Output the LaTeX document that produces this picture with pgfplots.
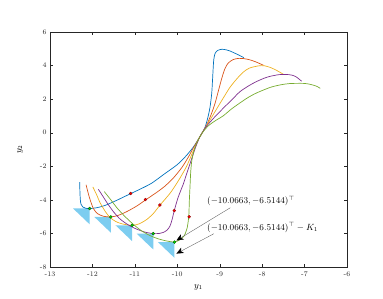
\documentclass[border=0pt]{standalone}
\usepackage{pgfplots}
\pgfplotsset{compat=1.18}
\usetikzlibrary{arrows.meta}
\definecolor{mblue}{RGB}{0,114,189}
\definecolor{morange}{RGB}{217,83,25}
\definecolor{myellow}{RGB}{237,177,32}
\definecolor{mpurple}{RGB}{126,47,142}
\definecolor{mgreen}{RGB}{119,172,48}
\definecolor{tri}{RGB}{125,205,240}
\definecolor{axgray}{RGB}{38,38,38}
\begin{document}
\begin{tikzpicture}
\begin{axis}[
  scale only axis, width=297bp, height=235bp,
  xmin=-13, xmax=-6, ymin=-8, ymax=6,
  xtick={-13,-12,...,-6}, ytick={-8,-6,...,6},
  tick align=inside, major tick length=3bp,
  axis line style={axgray, line width=0.4pt},
  tick style={axgray, line width=0.4pt},
  ticklabel style={font=\fontsize{7}{8}\selectfont, text=axgray},
  /pgf/number format/assume math mode=true,
  xticklabel style={yshift=-1bp},
  xlabel={$y_1$}, ylabel={$y_2$},
  label style={font=\fontsize{9}{10}\selectfont},
  xlabel style={at={(axis description cs:0.5,0)}, anchor=north, yshift=-14bp},
  ylabel style={at={(axis description cs:-0.101,0.5)}, anchor=center},
  every axis plot/.append style={line width=0.7pt},
]
% cones (triangles)
\addplot[fill=tri, draw=none] coordinates {(-12.0663,-4.5144) (-12.4563,-4.5144) (-12.0663,-5.4544)} -- cycle;
\addplot[fill=tri, draw=none] coordinates {(-11.5663,-5.0144) (-11.9563,-5.0144) (-11.5663,-5.9544)} -- cycle;
\addplot[fill=tri, draw=none] coordinates {(-11.0663,-5.5144) (-11.4563,-5.5144) (-11.0663,-6.4544)} -- cycle;
\addplot[fill=tri, draw=none] coordinates {(-10.5663,-6.0144) (-10.9563,-6.0144) (-10.5663,-6.9544)} -- cycle;
\addplot[fill=tri, draw=none] coordinates {(-10.0663,-6.5144) (-10.4563,-6.5144) (-10.0663,-7.4544)} -- cycle;
% curves
\addplot[mblue, smooth, tension=0.45] coordinates {
(-12.30,-2.95) (-12.295,-3.5) (-12.285,-4.0) (-12.27,-4.25) (-12.23,-4.42) (-12.16,-4.50) (-12.07,-4.52)
(-11.9,-4.47) (-11.7,-4.33) (-11.43,-4.03) (-11.1,-3.63) (-10.85,-3.33) (-10.6,-3.0) (-10.3,-2.45)
(-10.0,-1.9) (-9.8,-1.4) (-9.62,-0.85) (-9.47,-0.25) (-9.35,0.3) (-9.28,0.9) (-9.23,1.5) (-9.19,2.3)
(-9.17,3.1) (-9.155,3.8) (-9.14,4.35) (-9.11,4.72) (-9.05,4.9) (-8.95,4.97) (-8.85,4.94) (-8.76,4.87)
(-8.56,4.64) (-8.43,4.47)};
\addplot[morange, smooth, tension=0.45] coordinates {
(-12.15,-3.10) (-12.11,-3.5) (-12.07,-3.87) (-12.02,-4.25) (-11.97,-4.55) (-11.88,-4.82) (-11.75,-4.97)
(-11.57,-5.02) (-11.4,-4.93) (-11.19,-4.70) (-10.95,-4.36) (-10.74,-3.99) (-10.5,-3.58) (-10.3,-3.2)
(-10.1,-2.72) (-9.9,-2.1) (-9.75,-1.5) (-9.62,-0.9) (-9.47,-0.25) (-9.31,0.45) (-9.2,1.1) (-9.11,1.75)
(-9.02,2.6) (-8.95,3.25) (-8.88,3.8) (-8.8,4.15) (-8.68,4.36) (-8.55,4.43) (-8.45,4.42) (-8.3,4.35)
(-8.15,4.22) (-7.97,4.02)};
\addplot[myellow, smooth, tension=0.45] coordinates {
(-11.99,-3.23) (-11.9,-3.7) (-11.82,-4.17) (-11.7,-4.68) (-11.59,-5.04) (-11.45,-5.29) (-11.3,-5.43)
(-11.07,-5.52) (-10.9,-5.43) (-10.72,-5.17) (-10.56,-4.8) (-10.41,-4.32) (-10.25,-3.85) (-10.13,-3.47)
(-9.94,-2.72) (-9.78,-2.0) (-9.66,-1.3) (-9.56,-0.75) (-9.47,-0.25) (-9.35,0.25) (-9.23,0.75) (-9.1,1.3)
(-8.92,2.05) (-8.76,2.7) (-8.6,3.2) (-8.45,3.6) (-8.3,3.85) (-8.09,3.98) (-7.95,3.99) (-7.8,3.88)
(-7.65,3.7) (-7.5,3.48)};
\addplot[mpurple, smooth, tension=0.45] coordinates {
(-11.86,-3.37) (-11.75,-3.8) (-11.63,-4.27) (-11.5,-4.72) (-11.35,-5.14) (-11.15,-5.5) (-10.96,-5.74)
(-10.75,-5.93) (-10.56,-6.01) (-10.42,-6.0) (-10.33,-5.94) (-10.24,-5.8) (-10.17,-5.55) (-10.12,-5.15)
(-10.07,-4.63) (-9.98,-3.85) (-9.86,-3.07) (-9.78,-2.45) (-9.70,-1.85) (-9.58,-0.95) (-9.47,-0.25)
(-9.32,0.35) (-9.15,0.85) (-8.92,1.45) (-8.7,2.0) (-8.52,2.45) (-8.3,2.82) (-8.13,3.05) (-7.95,3.25)
(-7.81,3.36) (-7.6,3.46) (-7.42,3.47) (-7.3,3.43) (-7.2,3.33) (-7.07,3.07)};
\addplot[mgreen, smooth, tension=0.45] coordinates {
(-11.72,-3.51) (-11.55,-4.05) (-11.43,-4.45) (-11.25,-4.95) (-11.04,-5.45) (-10.84,-5.85) (-10.64,-6.13)
(-10.45,-6.32) (-10.25,-6.45) (-10.07,-6.51) (-9.94,-6.38) (-9.84,-6.15) (-9.77,-5.7) (-9.73,-5.0)
(-9.715,-4.0) (-9.70,-3.2) (-9.685,-2.4) (-9.66,-1.7) (-9.61,-1.1) (-9.55,-0.65) (-9.47,-0.25)
(-9.38,0.1) (-9.25,0.45) (-9.1,0.72) (-8.92,1.0) (-8.72,1.42) (-8.52,1.78) (-8.33,2.1) (-8.13,2.37)
(-7.81,2.7) (-7.55,2.86) (-7.34,2.93) (-7.04,2.94) (-6.9,2.9) (-6.79,2.83) (-6.7,2.75) (-6.63,2.64)};
% dots
\addplot[only marks, mark=*, mark size=1.5bp, mark options={fill=red, draw=red!50!black, line width=0.3pt}] coordinates {
(-11.1,-3.62) (-10.75,-3.98) (-10.41,-4.31) (-10.07,-4.64) (-9.72,-5.01)};
\addplot[only marks, mark=*, mark size=1.5bp, mark options={fill=green!85!black, draw=green!30!black, line width=0.3pt}] coordinates {
(-12.0663,-4.5144) (-11.5663,-5.0144) (-11.0663,-5.5144) (-10.5663,-6.0144) (-10.0663,-6.5144)};
% annotations
\draw[gray!70!black, line width=0.35pt, -{Stealth[length=7bp, width=6bp, black, inset=2bp]}] (axis cs:-8.75,-4.47) -- (axis cs:-10.02,-6.42);
\draw[gray!70!black, line width=0.35pt, -{Stealth[length=7bp, width=6bp, black, inset=2bp]}] (axis cs:-9.14,-6.02) -- (axis cs:-10.02,-7.2);
\node[anchor=west, inner sep=0pt, font=\fontsize{9}{10}\selectfont] at (axis cs:-9.3,-4.07) {$(-10.0663,-6.5144)^{\top}$};
\node[anchor=west, inner sep=0pt, font=\fontsize{9}{10}\selectfont] at (axis cs:-9.3,-5.66) {$(-10.0663,-6.5144)^{\top}-K_1$};
\end{axis}
\path (current axis.south west) ++(-50bp,-32bp) coordinate (bl);
\path (current axis.south west) ++(333bp,267bp) coordinate (tr);
\path (bl) rectangle (tr);
\end{tikzpicture}
\end{document}
